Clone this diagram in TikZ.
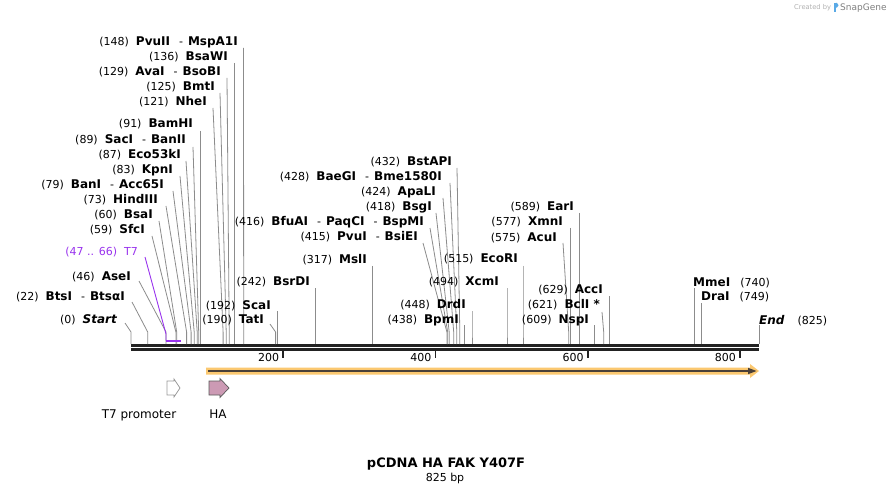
\documentclass[tikz,border=0pt]{standalone}
\usepackage{fontspec}
\setmainfont{DejaVu Sans}
\definecolor{siteg}{HTML}{8C8C8C}
\definecolor{bbone}{HTML}{222222}
\definecolor{tsev}{HTML}{9933EE}
\definecolor{featorange}{HTML}{FBC870}
\definecolor{featdark}{HTML}{4A4038}
\definecolor{hapink}{HTML}{CC9AB4}
\definecolor{logoblue}{HTML}{5AAAE6}
\newcommand{\pn}[1]{(#1)\hspace{7pt}}
\newcommand{\dsh}{\hspace{9pt}-\hspace{5pt}}
\newcommand{\eb}[1]{{\fontsize{12}{13}\selectfont\bfseries #1}}
% #1 name, #2 label end x, #3 label centre y, #4 text, #5 top x, #6 top y, #7 site x
\newcommand{\enzL}[7]{%
  \node[lab, anchor=base east] (#1) at (#2,#3+4) {#4};
  \coordinate (#1-t) at (#5,#6);
  \coordinate (#1-b) at (#7,332);
  \coordinate (#1-s) at (#7,344);
  \draw[siteline] (#1-t) -- (#1-b) -- (#1-s);
}
\newcommand{\enzR}[7]{%
  \node[lab, anchor=base west] (#1) at (#2,#3+4) {#4};
  \coordinate (#1-t) at (#5,#6);
  \coordinate (#1-b) at (#7,332);
  \coordinate (#1-s) at (#7,344);
  \draw[siteline] (#1-t) -- (#1-b) -- (#1-s);
}
\begin{document}
\begin{tikzpicture}[x=1pt,y=-1pt,
  lab/.style={inner sep=0pt, font=\fontsize{11}{13}\selectfont},
  siteline/.style={draw=siteg, line width=0.8pt},
  ticklab/.style={inner sep=0pt, anchor=base east, font=\fontsize{11}{13}\selectfont},
  featlab/.style={inner sep=0pt, anchor=base, font=\fontsize{12}{14}\selectfont}]
\fill[white] (0,0) rectangle (891,494);
\useasboundingbox (0,0) rectangle (891,494);

% backbone
\coordinate (bbL1) at (131,345.5); \coordinate (bbR1) at (759,345.5);
\coordinate (bbL2) at (131,349.7); \coordinate (bbR2) at (759,349.7);
\draw[bbone, line width=3pt] (bbL1) -- (bbR1);
\draw[bbone, line width=2.5pt] (bbL2) -- (bbR2);

% ticks
\foreach \v/\xx in {200/283.2, 400/435.5, 600/587.7, 800/740} {
  \coordinate (tk\v a) at (\xx,351);
  \coordinate (tk\v b) at (\xx,357.5);
  \draw[bbone, line width=1.8pt] (tk\v a) -- (tk\v b);
  \node[ticklab] (tl\v) at (\xx-4,361) {\v};
}

% enzymes (labels on the left of their lines)
\enzL{PvuII}{238}{42}{\pn{148}\eb{PvuII}\dsh\eb{MspA1I}}{243.5}{48}{243.7}
\enzL{BsaWI}{228}{57}{\pn{136}\eb{BsaWI}}{234.5}{63}{234.5}
\enzL{AvaI}{221}{72}{\pn{129}\eb{AvaI}\dsh\eb{BsoBI}}{227}{78}{229.2}
\enzL{BmtI}{215}{87}{\pn{125}\eb{BmtI}}{220}{93}{226.2}
\enzL{NheI}{207}{102}{\pn{121}\eb{NheI}}{213}{108}{223.1}
\enzL{BamHI}{193}{124}{\pn{91}\eb{BamHI}}{200.3}{131}{200.3}
\enzL{SacI}{186}{140}{\pn{89}\eb{SacI}\dsh\eb{BanII}}{193}{147}{198.7}
\enzL{Eco53kI}{181}{155}{\pn{87}\eb{Eco53kI}}{186}{161}{197.2}
\enzL{KpnI}{173}{170}{\pn{83}\eb{KpnI}}{180}{176}{194.2}
\enzL{BanI}{164}{185}{\pn{79}\eb{BanI}\dsh\eb{Acc65I}}{173}{191}{191.1}
\enzL{HindIII}{158}{200}{\pn{73}\eb{HindIII}}{166}{206}{186.6}
\enzL{BsaI}{153}{215}{\pn{60}\eb{BsaI}}{159}{221}{176.7}
\enzL{SfcI}{145}{230}{\pn{59}\eb{SfcI}}{152}{236}{175.9}
\enzL{AseI}{131}{276}{\pn{46}\eb{AseI}}{139}{281}{166}
\enzL{BtsI}{125}{297}{\pn{22}\eb{BtsI}\dsh\eb{BtsαI}}{132}{302}{147.7}
\enzL{Start}{117}{319}{\pn{0}\eb{\itshape Start}}{125}{323}{131}
\enzL{ScaI}{271}{305}{\pn{192}\eb{ScaI}}{277.2}{311}{277.2}
\enzL{TatI}{264}{319}{\pn{190}\eb{TatI}}{270}{324}{275.6}
\enzL{BsrDI}{310}{282}{\pn{242}\eb{BsrDI}}{315.2}{288}{315.2}
\enzL{MslI}{367}{260}{\pn{317}\eb{MslI}}{372.3}{266}{372.3}
\enzL{BstAPI}{452}{162}{\pn{432}\eb{BstAPI}}{457}{168}{459.8}
\enzL{BaeGI}{442}{177}{\pn{428}\eb{BaeGI}\dsh\eb{Bme1580I}}{450}{183}{456.8}
\enzL{ApaLI}{436}{192}{\pn{424}\eb{ApaLI}}{443}{198}{453.7}
\enzL{BsgI}{432}{207}{\pn{418}\eb{BsgI}}{436}{213}{449.2}
\enzL{BfuAI}{424}{222}{\pn{416}\eb{BfuAI}\dsh\eb{PaqCI}\dsh\eb{BspMI}}{430}{228}{447.7}
\enzL{PvuI}{418}{237}{\pn{415}\eb{PvuI}\dsh\eb{BsiEI}}{423}{243}{446.9}
\enzL{EcoRI}{518}{259}{\pn{515}\eb{EcoRI}}{523}{266}{523}
\enzL{XcmI}{499}{282}{\pn{494}\eb{XcmI}}{507}{288}{507}
\enzL{DrdI}{466}{304}{\pn{448}\eb{DrdI}}{472}{311}{472}
\enzL{BpmI}{459}{319}{\pn{438}\eb{BpmI}}{464.4}{325}{464.4}
\enzL{EarI}{574}{207}{\pn{589}\eb{EarI}}{579.3}{213}{579.3}
\enzL{XmnI}{563}{222}{\pn{577}\eb{XmnI}}{570.2}{228}{570.2}
\enzL{AcuI}{557}{238}{\pn{575}\eb{AcuI}}{563}{243}{568.7}
\enzL{AccI}{603}{289}{\pn{629}\eb{AccI}}{609.8}{296}{609.8}
\enzL{BclI}{600}{304}{\pn{621}\eb{BclI *}}{602}{312}{603.7}
\enzL{NspI}{589}{319}{\pn{609}\eb{NspI}}{594.6}{325}{594.6}
% labels on the right of their lines
\enzR{MmeI}{693}{283}{\eb{MmeI}\hspace{10pt}(740)}{694.3}{288}{694.3}
\enzR{DraI}{701}{297}{\eb{DraI}\hspace{10pt}(749)}{701.1}{303}{701.1}
\enzR{End}{759}{320}{\eb{\itshape End}\hspace{13pt}(825)}{759}{325}{759}

% T7 primer-binding feature on map
\node[lab, anchor=base east, text=tsev] (T7lab) at (138,256) {(47 .. 66)\hspace{7pt}T7};
\coordinate (T7t) at (145,257);
\coordinate (T7b) at (166,334);
\coordinate (T7s) at (166,340.5);
\coordinate (T7e) at (181.2,340.5);
\draw[tsev, line width=0.9pt] (T7t) -- (T7b) -- (T7s);
\draw[tsev, line width=2pt] (T7s) -- (T7e);

% orange feature
\fill[featorange] (206,367.5) -- (750,367.5) -- (750,364) -- (759,371) -- (750,378) -- (750,374.5) -- (206,374.5) -- cycle;
\draw[featdark, line width=2pt] (208,371) -- (750,371);
\fill[featdark] (748,367.8) -- (756.5,371) -- (748,374.2) -- cycle;

% T7 promoter and HA
\draw[draw=gray!80, fill=white, line width=0.7pt] (167,381) -- (174,381) -- (174,379) -- (180,388) -- (174,397) -- (174,395) -- (167,395) -- cycle;
\draw[draw=black!65, fill=hapink, line width=0.7pt] (209,381) -- (220,381) -- (220,378.5) -- (229,388) -- (220,397.5) -- (220,395) -- (209,395) -- cycle;
\node[featlab] (t7p) at (139,418) {T7 promoter};
\node[featlab] (ha) at (218,418) {HA};

% title
\node[inner sep=0pt, font=\bfseries\fontsize{13}{15}\selectfont] (title) at (446,464) {pCDNA HA FAK Y407F};
\node[inner sep=0pt, font=\fontsize{11}{13}\selectfont] (len) at (445,478) {825 bp};

% logo
\node[inner sep=0pt, anchor=base west, text=black!30, font=\fontsize{6.7}{8}\selectfont] (cb) at (794,10) {Created by};
\fill[logoblue] (834,3) rectangle (835.8,12);
\fill[logoblue] (835.8,3) -- (837,3) .. controls (839,3.5) and (839,7) .. (837,7.5) -- (835.8,7.8) -- cycle;
\node[inner sep=0pt, anchor=base west, text=black!50, font=\fontsize{9}{11}\selectfont] (sg) at (840,11) {SnapGene};
\end{tikzpicture}
\end{document}
